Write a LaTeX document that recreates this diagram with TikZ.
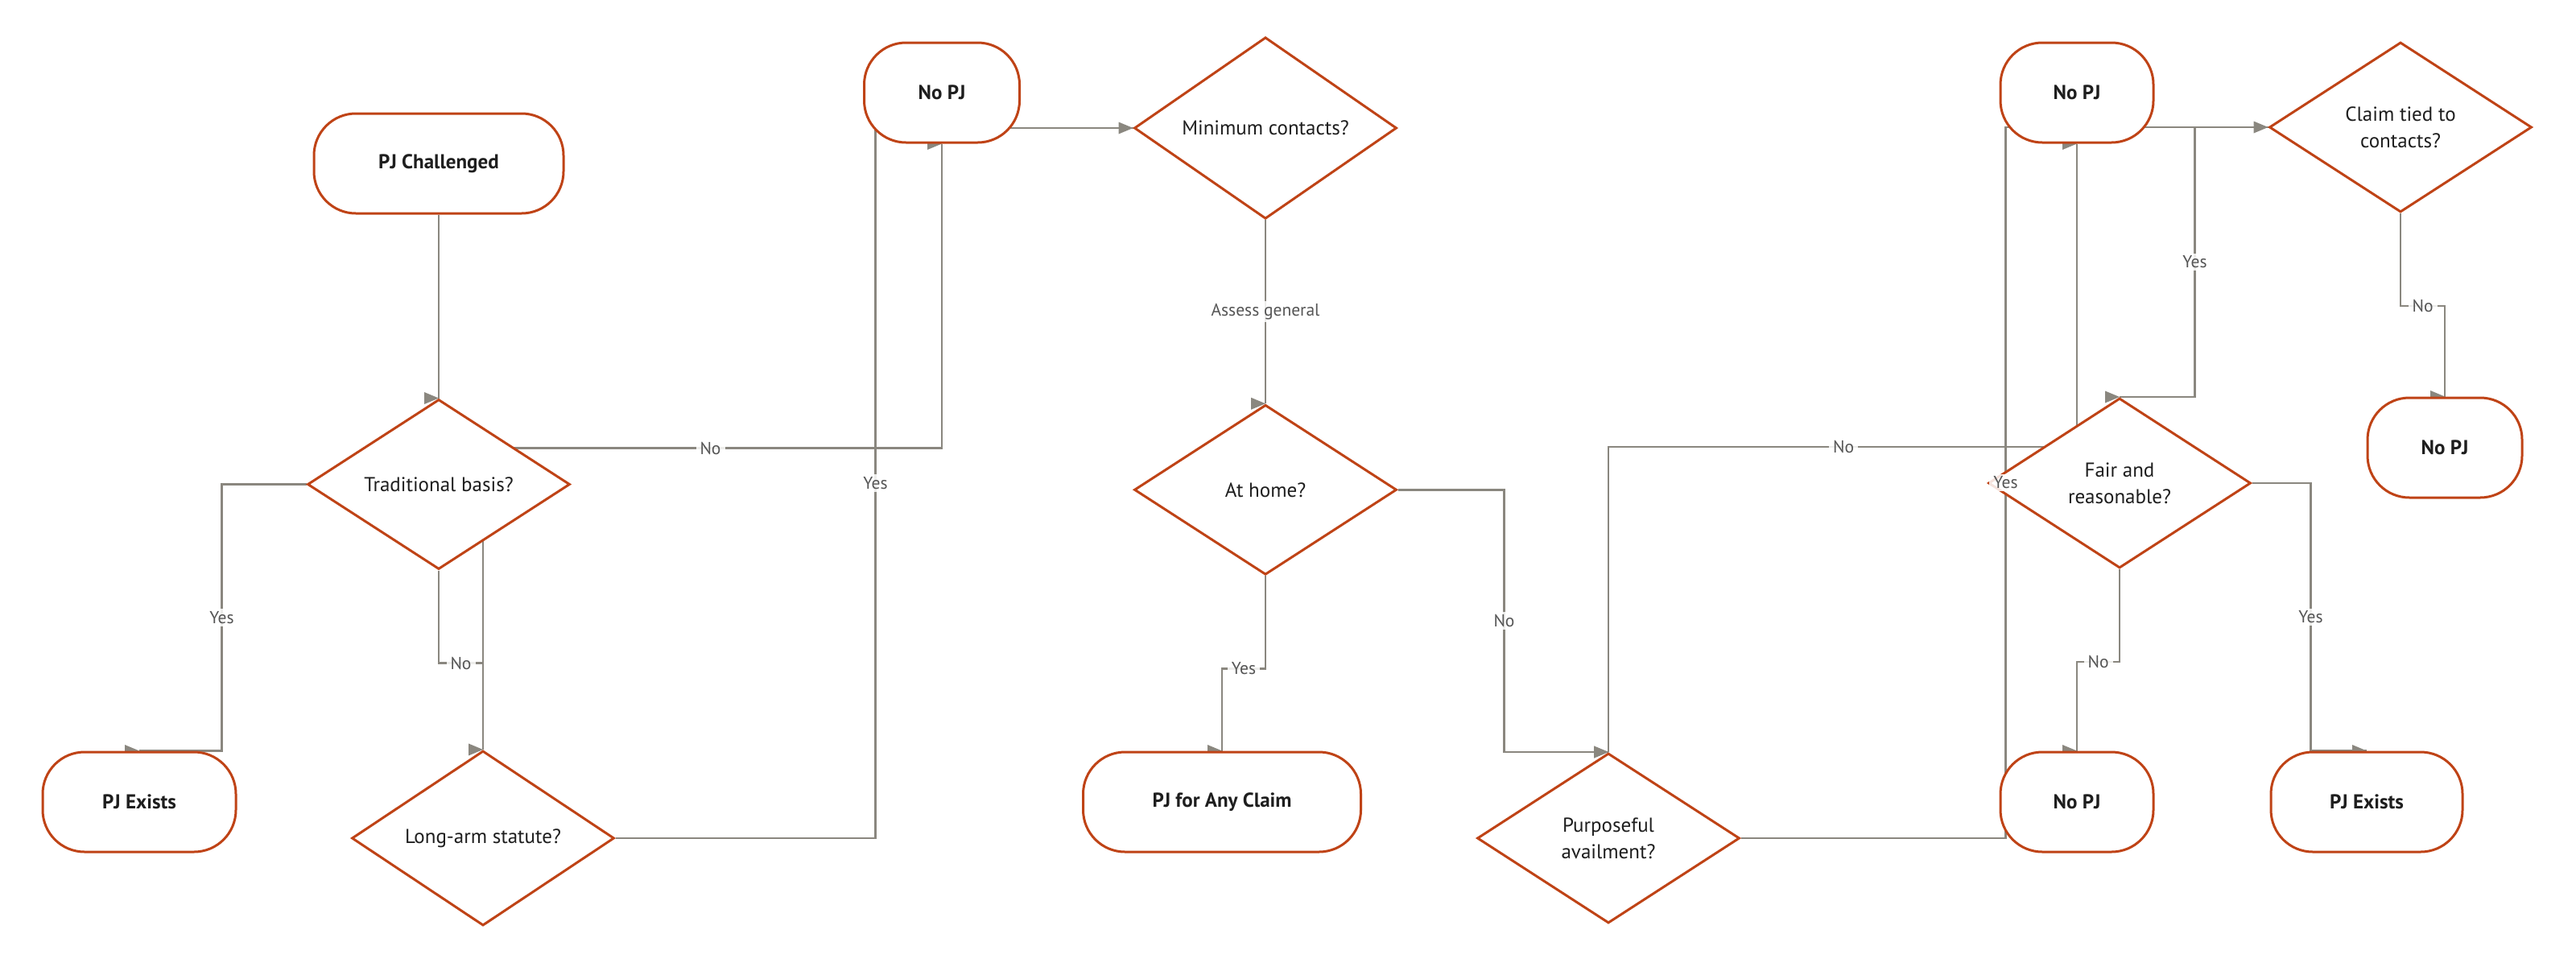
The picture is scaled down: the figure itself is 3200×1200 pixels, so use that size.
\documentclass[tikz,border=0pt]{standalone}
\usepackage{fontspec}
\setmainfont{PT Sans}
\usetikzlibrary{positioning}
\usetikzlibrary{calc}
\usetikzlibrary{shapes}
\definecolor{rust}{HTML}{BF4316}
\definecolor{wiregray}{HTML}{8A877F}
\definecolor{ink}{HTML}{1E1E1E}
\definecolor{lblgray}{HTML}{555555}
\pgfdeclarelayer{bg}
\pgfsetlayers{bg,main}
\tikzset{
term/.style={
  rectangle,
  rounded corners=52pt,
  minimum height=124pt,
  inner sep=0pt,
  draw=rust,
  line width=3pt,
  fill=white,
  text=ink,
  font=\fontsize{25}{30}\selectfont\bfseries
  },
dec/.style={
  diamond,
  minimum width=326pt,
  minimum height=211pt,
  inner sep=0pt,
  align=center,
  draw=rust,
  line width=3pt,
  fill=white,
  text=ink,
  font=\fontsize{25}{33}\selectfont
  },
lbl/.style={
  fill=white,
  fill opacity=0.85,
  text opacity=1,
  text=lblgray,
  inner ysep=3pt,
  inner xsep=5pt,
  font=\fontsize{21.5}{24}\selectfont
  },
hd/.style={
  isosceles triangle,
  isosceles triangle stretches,
  shape border rotate=0,
  minimum width=15pt,
  minimum height=18pt,
  inner sep=0pt,
  outer sep=0pt,
  fill=wiregray,
  anchor=apex
  },
link/.style={draw=wiregray, line width=2.5pt}
}
\begin{document}
\begin{tikzpicture}[x=1pt,y=-1pt]
\useasboundingbox (0,0) rectangle (3200,1200);
\node[term, minimum width=310pt] (chal) at (545,203) {PJ Challenged};
\node[dec] (tb) [below=228pt of chal] {Traditional basis?};
\node[term, minimum width=240pt] (pje1) at (173,996) {PJ Exists};
\node[dec] (la) at (600,1041) {Long-arm statute?};
\node[term, minimum width=193pt] (nopj1) at (1170,115) {No PJ};
\node[dec] (mc) at (1572,159) {Minimum contacts?};
\node[dec] (ah) [below=228pt of mc] {At home?};
\node[term, minimum width=345pt] (any) at (1518,996) {PJ for Any Claim};
\node[dec] (pa) at (1998,1041) {Purposeful\\availment?};
\node[term, minimum width=190pt] (nopj2) at (2580,115) {No PJ};
\node[dec] (ct) at (2982,158) {Claim tied to\\contacts?};
\node[dec] (fr) at (2633,600) {Fair and\\reasonable?};
\node[term, minimum width=192pt] (nopj3) at (3037,556) {No PJ};
\node[term, minimum width=190pt] (nopj4) at (2580,996) {No PJ};
\node[term, minimum width=238pt] (pje2) at (2940,996) {PJ Exists};

\begin{pgfonlayer}{bg}
% left part
\draw[link] (chal.south) -- (tb.north) node[hd] {};
\draw[link] (tb.west) -- ++(-105,0) |- node[lbl, pos=0.25] {Yes} (pje1.north) node[hd] {};
\draw[link] (tb.south) -- ++(0,115) -| node[lbl, pos=0.25] {No} (la.north) node[hd] {};
\draw[link] (la.north |- tb.east) -- (la.north);
\draw[link] ([yshift=45pt]tb.center) -| node[lbl, pos=0.27] {No} (nopj1.south) node[hd] {};
\draw[link] (la.east) -- ++(323,0) |- node[lbl, pos=0.25] {Yes} (mc.west) node[hd] {};
% middle part
\draw[link] (mc.south) -- node[lbl] {Assess general} (ah.north) node[hd] {};
\draw[link] (ah.south) -- ++(0,115) -| node[lbl, pos=0.25] {Yes} (any.north) node[hd] {};
\draw[link] (ah.east) -- ++(132,0) |- node[lbl, pos=0.25] {No} (pa.north) node[hd] {};
\draw[link] ([yshift=45pt]fr.center) -| node[lbl, pos=0.27] {No} (pa.north) node[hd] {};
% right part
\draw[link] (pa.east) -- ++(329,0) |- (ct.west) node[hd] {};
\draw[link] (ct.west) -- ++(-91,0) |- node[lbl, pos=0.25] {Yes} (fr.north) node[hd] {};
\draw[link] (ct.south) -- ++(0,115) -| node[lbl, pos=0.25] {No} (nopj3.north) node[hd] {};
\draw[link] (nopj2.south |- fr.center) -- (nopj2.south) node[hd] {};
\draw[link] (fr.south) -- ++(0,115) -| node[lbl, pos=0.25] {No} (nopj4.north) node[hd] {};
\draw[link] (fr.east) -- ++(73,0) |- node[lbl, pos=0.25] {Yes} (pje2.north) node[hd] {};
\end{pgfonlayer}
% this label sits over the corner of the diamond
\path (pa.east) -- ++(329,0) |- node[lbl, pos=0.25] {Yes} (ct.west);
\end{tikzpicture}
\end{document}
